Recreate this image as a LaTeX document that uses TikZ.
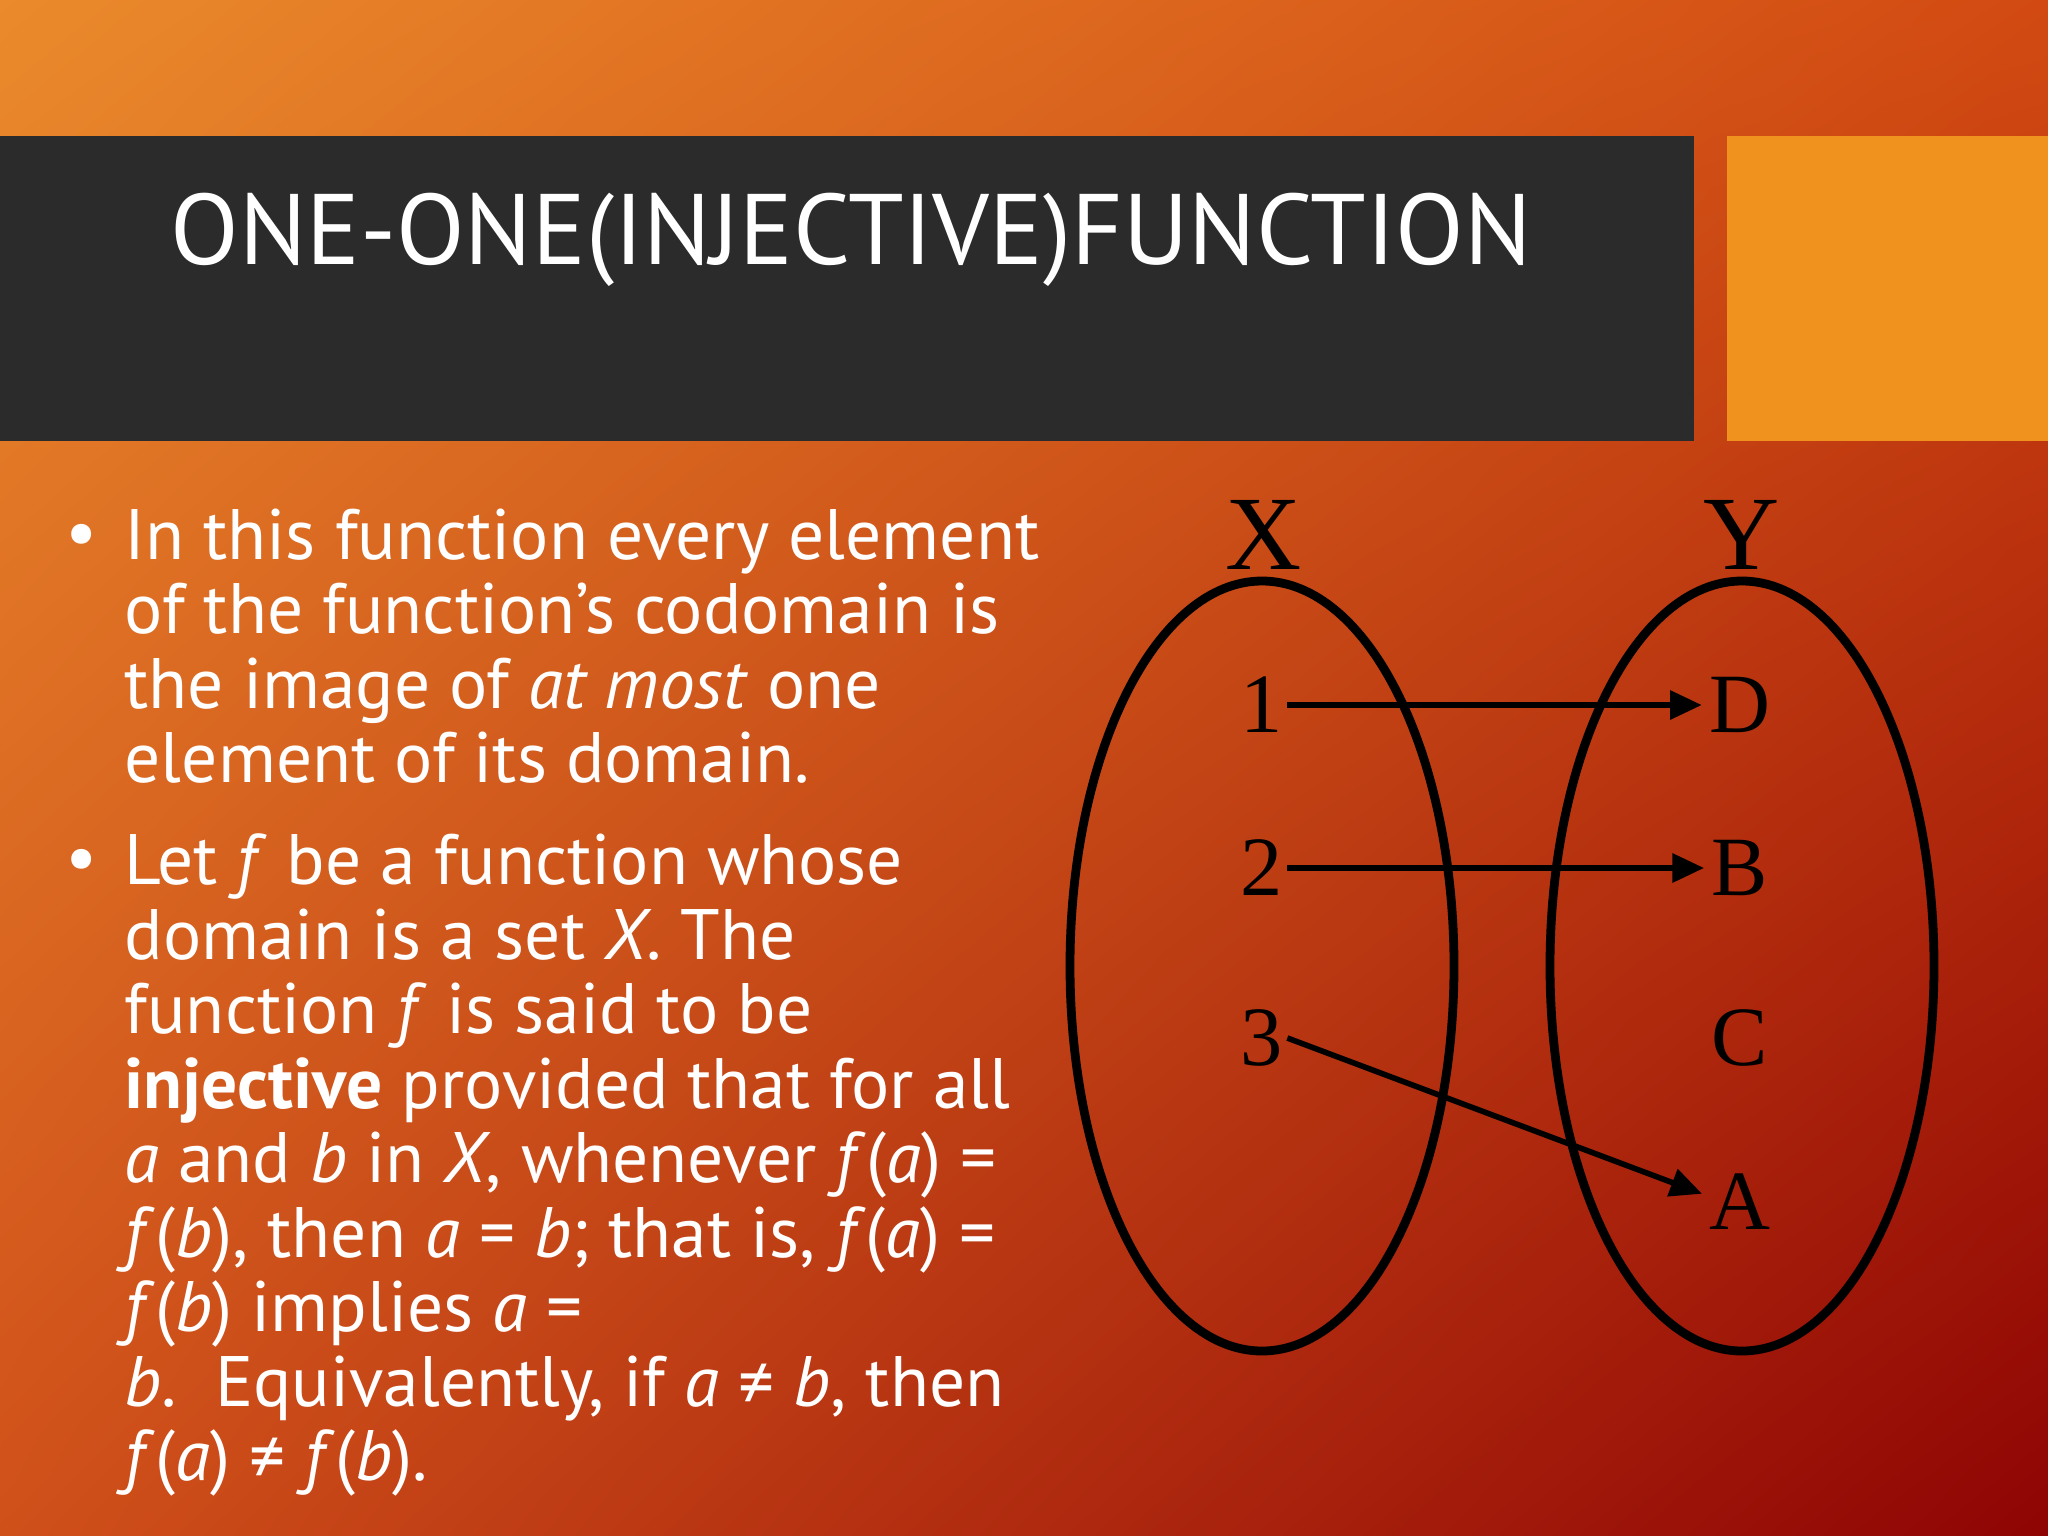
\documentclass[tikz,border=0pt]{standalone}
\usepackage{fontspec}
\setmainfont{PT Sans}
\newfontfamily\serifdiag{Liberation Serif}
\usetikzlibrary{arrows.meta,shadings}
\definecolor{bgtl}{HTML}{EA8A2C}
\definecolor{bgtr}{HTML}{D24A12}
\definecolor{bgbl}{HTML}{D0501A}
\definecolor{bgbr}{HTML}{8E0404}
\definecolor{bar}{HTML}{2B2B2B}
\definecolor{accent}{HTML}{F0931E}
\tikzset{
  elem/.style={font=\serifdiag\fontsize{24}{24}\selectfont, inner sep=1pt},
  setlab/.style={font=\serifdiag\fontsize{30}{30}\selectfont},
  setell/.style={draw=black, line width=2.5pt},
  maparr/.style={-{Triangle[length=9pt,width=8pt]}, line width=1.6pt, shorten >=1pt},
  bodytext/.style={text=white, anchor=north west, align=left, font=\fontsize{20.3}{21.2}\selectfont, inner sep=0pt}
}
\begin{document}
\begin{tikzpicture}[x=0.01cm,y=-0.01cm]
\shade[upper left=bgtl, upper right=bgtr, lower left=bgbl, lower right=bgbr] (0,0) rectangle (2048,1536);
\useasboundingbox (0,0) rectangle (2048,1536);
\fill[bar] (0,136) rectangle (1694,441);
\fill[accent] (1727,136) rectangle (2048,441);
\node[text=white, font=\fontsize{28.5}{28.5}\selectfont] (title) at (851,240) {ONE-ONE(INJECTIVE)FUNCTION};
\node[bodytext] (p1) at (124,508) {In this function every element\\of the function\symbol{39}s codomain is\\the image of \textit{at most} one\\element of its domain.};
\node[text=white, font=\fontsize{20.3}{21.2}\selectfont] (b1) at (82,540) {•};
\node[bodytext] (p2) at (124,833) {Let \textit{f} be a function whose\\domain is a set \textit{X}. The\\function \textit{f} is said to be\\\textbf{injective} provided that for all\\\textit{a} and \textit{b} in \textit{X}, whenever \textit{f}(\textit{a}) =\\\textit{f}(\textit{b}), then \textit{a} = \textit{b}; that is, \textit{f}(\textit{a}) =\\\textit{f}(\textit{b}) implies \textit{a} =\\\textit{b}.\ \ Equivalently, if \textit{a} ≠ \textit{b}, then\\\textit{f}(\textit{a}) ≠ \textit{f}(\textit{b}).};
\node[text=white, font=\fontsize{20.3}{21.2}\selectfont] (b2) at (82,865) {•};
\draw[setell] (1262,966) ellipse [x radius=192, y radius=385];
\draw[setell] (1742,966) ellipse [x radius=192, y radius=385];
\node[setlab] (X) at (1264,535) {X};
\node[setlab] (Y) at (1742,535) {Y};
\node[elem] (n1) at (1262,705) {1};
\node[elem] (n2) at (1262,868) {2};
\node[elem] (n3) at (1262,1038) {3};
\node[elem] (D) at (1740,705) {D};
\node[elem] (B) at (1740,868) {B};
\node[elem] (C) at (1740,1038) {C};
\node[elem] (A) at (1740,1202) {A};
\draw[maparr] (n1.east) -- (D.west);
\draw[maparr] (n2.east) -- (B.west);
\draw[maparr] (n3.east) -- ([yshift=2pt]A.west);
\end{tikzpicture}
\end{document}
